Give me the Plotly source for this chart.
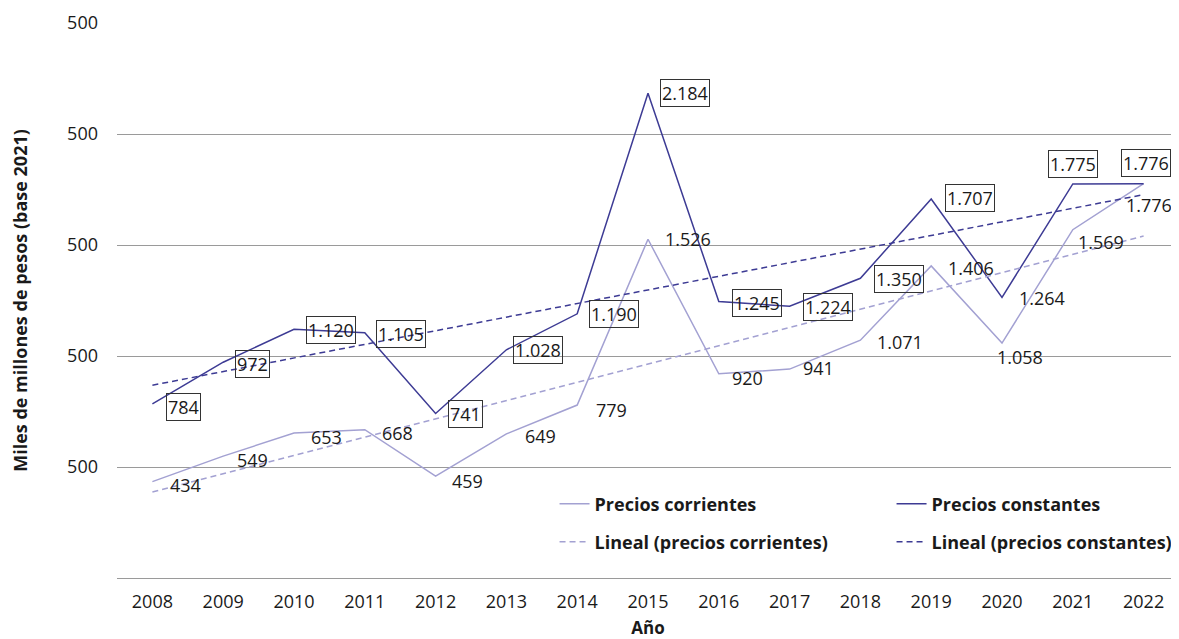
import numpy as np
import plotly.graph_objects as go

years = [2008, 2009, 2010, 2011, 2012, 2013, 2014, 2015, 2016, 2017, 2018, 2019, 2020, 2021, 2022]
precios_corrientes = [434, 549, 653, 668, 459, 649, 779, 1526, 920, 941, 1071, 1406, 1058, 1569, 1776]
precios_constantes = [784, 972, 1120, 1105, 741, 1028, 1190, 2184, 1245, 1224, 1350, 1707, 1264, 1775, 1776]
y_tick_vals = [0, 500, 1000, 1500, 2000, 2500]
y_tick_labels = ["", "500", "500", "500", "500", "500"]

COL_CONST = "#3d3b94"
COL_CORR = "#a3a1d2"
FONT = "Open Sans"
TXT = "#1a1a1a"


def fmt(v):
    # miles con punto, como en el original
    return f"{v:,}".replace(",", ".")


# lineas de tendencia (regresion lineal, igual que la "Lineal" de Excel)
x = np.array(years, dtype=float)
fit_corr = np.polyval(np.polyfit(x, precios_corrientes, 1), x)
fit_const = np.polyval(np.polyfit(x, precios_constantes, 1), x)

fig = go.Figure()
fig.add_trace(go.Scatter(x=years, y=precios_corrientes, mode="lines", name="Precios corrientes",
                         line=dict(color=COL_CORR, width=1.5), legend="legend"))
fig.add_trace(go.Scatter(x=years, y=precios_constantes, mode="lines", name="Precios constantes",
                         line=dict(color=COL_CONST, width=1.5), legend="legend"))
fig.add_trace(go.Scatter(x=years, y=fit_corr, mode="lines", name="Lineal (precios corrientes)",
                         line=dict(color=COL_CORR, width=1.5, dash="6px,4px"), legend="legend2"))
fig.add_trace(go.Scatter(x=years, y=fit_const, mode="lines", name="Lineal (precios constantes)",
                         line=dict(color=COL_CONST, width=1.5, dash="6px,4px"), legend="legend2"))

# desplazamientos de las etiquetas (px): derecha, abajo
const_dx = [31, 29, 37, 36, 30, 32, 37, 37, 38, 38, 39, 39, 40, 0, 2]
const_dy = [3, 2, 1, 1, 0, 0, 0, 0, 1, 1, 1, -1, 1, -20, -21]
const_box = [True] * 12 + [False] + [True, True]
corr_dx = [33, 29, 32, 33, 32, 34, 34, 40, 29, 29, 40, 40, 18, 28, 5]
corr_dy = [3, 4, 4, 3, 5, 2, 5, 0, 4, -1, 2, 2, 14, 12, 21]

for i, yr in enumerate(years):
    fig.add_annotation(x=yr, y=precios_constantes[i], text=fmt(precios_constantes[i]),
                       showarrow=False, xshift=const_dx[i], yshift=-const_dy[i],
                       font=dict(family=FONT, size=18, color=TXT),
                       bordercolor="#333333" if const_box[i] else None,
                       borderwidth=1 if const_box[i] else 0, borderpad=1,
                       bgcolor="rgba(255,255,255,0)")
    fig.add_annotation(x=yr, y=precios_corrientes[i], text=fmt(precios_corrientes[i]),
                       showarrow=False, xshift=corr_dx[i], yshift=-corr_dy[i],
                       font=dict(family=FONT, size=18, color=TXT))

legend_style = dict(orientation="h", xanchor="left", yanchor="middle",
                    font=dict(family=FONT, size=18, color=TXT, weight="bold"),
                    entrywidth=292, entrywidthmode="pixels", bgcolor="rgba(0,0,0,0)",
                    traceorder="normal")

# la pagina tiene 8px de margen en el body: la figura se encoge otro tanto
fig.update_layout(
    width=1171, height=631,
    margin=dict(l=109, r=0, t=15, b=61, autoexpand=False),
    plot_bgcolor="white", paper_bgcolor="white",
    font=dict(family=FONT, size=18, color=TXT),
    legend=dict(x=0.412, y=0.1333, **legend_style),
    legend2=dict(x=0.412, y=0.0649, **legend_style),
    xaxis=dict(range=[2007.5, 2022.5], tickvals=years, showgrid=False, zeroline=False,
               showline=False, ticks="", ticklabelstandoff=11, automargin=False,
               tickfont=dict(family=FONT, size=18, color=TXT),
               title=dict(text="<b>Año</b>", font=dict(family=FONT, size=17), standoff=18)),
    yaxis=dict(range=[0, 2500], tickvals=y_tick_vals, ticktext=y_tick_labels,
               showgrid=True, gridcolor="#9a9a9a", gridwidth=1, zeroline=True,
               zerolinecolor="#9a9a9a", zerolinewidth=1, showline=False, ticks="",
               ticklabelstandoff=18, automargin=False,
               tickfont=dict(family=FONT, size=18, color=TXT),
               title=dict(text="<b>Miles de millones de pesos (base 2021)</b>",
                          font=dict(family=FONT, size=18), standoff=42)),
)

fig.write_html("out.html")
